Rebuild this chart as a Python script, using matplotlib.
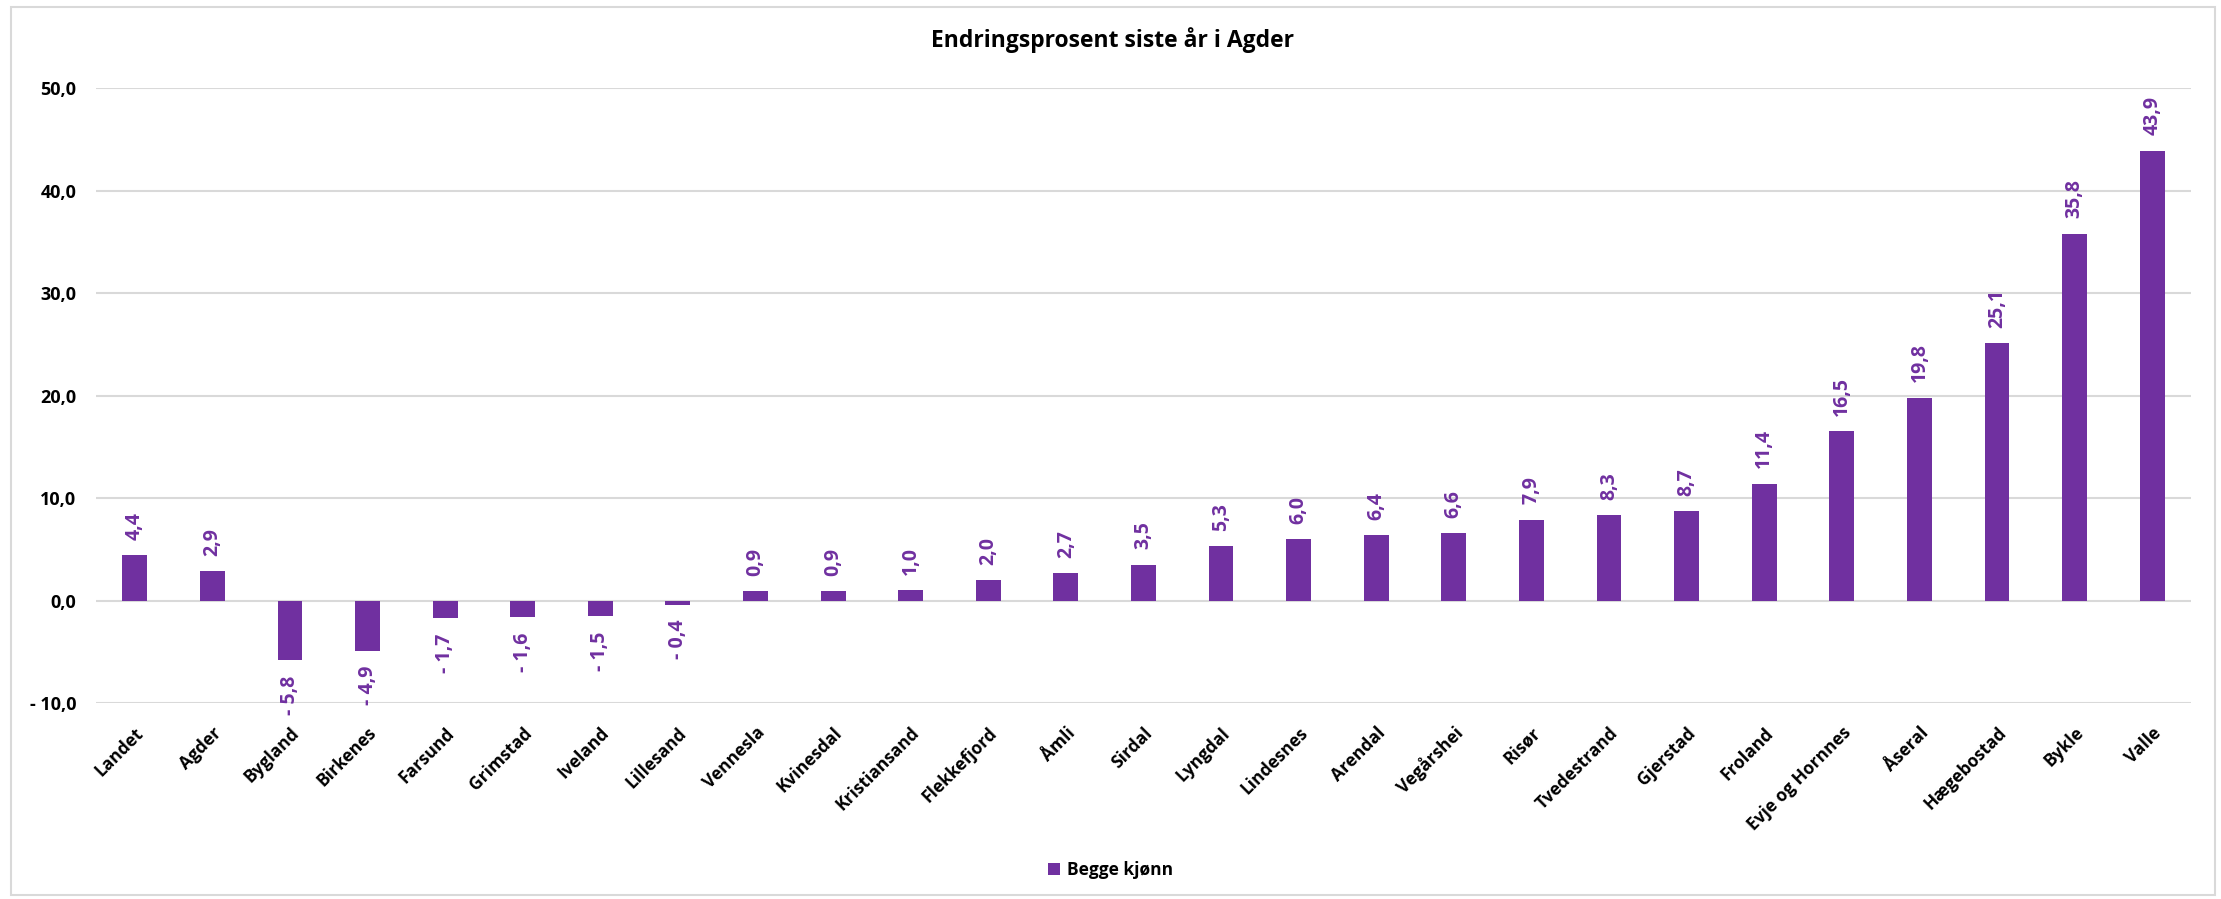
import matplotlib.pyplot as plt
from matplotlib.patches import Rectangle

# Data
kommuner = ['Landet', 'Agder', 'Bygland', 'Birkenes', 'Farsund', 'Grimstad', 'Iveland',
            'Lillesand', 'Vennesla', 'Kvinesdal', 'Kristiansand', 'Flekkefjord', 'Åmli',
            'Sirdal', 'Lyngdal', 'Lindesnes', 'Arendal', 'Vegårshei', 'Risør', 'Tvedestrand',
            'Gjerstad', 'Froland', 'Evje og Hornnes', 'Åseral', 'Hægebostad', 'Bykle', 'Valle']
endring = [4.4, 2.9, -5.8, -4.9, -1.7, -1.6, -1.5, -0.4, 0.9, 0.9, 1.0, 2.0, 2.7,
           3.5, 5.3, 6.0, 6.4, 6.6, 7.9, 8.3, 8.7, 11.4, 16.5, 19.8, 25.1, 35.8, 43.9]
y_ticks = [-10, 0, 10, 20, 30, 40, 50]

PURPLE = '#7030A0'
GRID = '#D9D9D9'

plt.rcParams['font.family'] = ['Open Sans', 'DejaVu Sans']


def fmt(v):
    s = f"{abs(v):.1f}".replace('.', ',')
    return '- ' + s if v < 0 else s


fig = plt.figure(figsize=(22.21, 8.99), dpi=100)
ax = fig.add_axes([0.0432, 0.218, 0.9433, 0.684])

x = list(range(len(kommuner)))
bars = ax.bar(x, endring, width=0.32, color=PURPLE, label='Begge kjønn', zorder=3)

for xi, v in zip(x, endring):
    off = 11 if v >= 0 else -11
    ax.annotate(fmt(v), (xi, v), xytext=(0, off), textcoords='offset points',
                rotation=90, ha='center', va='bottom' if v >= 0 else 'top',
                color=PURPLE, fontsize=14, fontweight='bold')

ax.set_ylim(-10, 50)
ax.set_xlim(-0.5, 26.5)
ax.set_yticks(y_ticks)
ax.set_yticklabels([fmt(t) for t in y_ticks], fontsize=13, fontweight='bold')
ax.set_xticks(x)
ax.set_xticklabels(kommuner, rotation=45, ha='right', rotation_mode='anchor',
                   fontsize=12.5, fontweight='bold')
ax.tick_params(axis='both', length=0)
ax.tick_params(axis='x', pad=15)
ax.tick_params(axis='y', pad=14)
ax.grid(axis='y', color=GRID, linewidth=1.5, zorder=0)
for s in ax.spines.values():
    s.set_visible(False)

fig.text(0.501, 0.955, 'Endringsprosent siste år i Agder', ha='center', va='center',
         fontsize=16.5, fontweight='bold')

fig.legend(handles=[bars], labels=['Begge kjønn'], loc='center', bbox_to_anchor=(0.5, 0.032),
           frameon=False, prop={'weight': 'bold', 'size': 12.5},
           handlelength=0.7, handleheight=0.7, handletextpad=0.4)

fig.patches.append(Rectangle((11 / 2221, 4 / 899), 2204 / 2221, 888 / 899,
                             transform=fig.transFigure, fill=False,
                             edgecolor=GRID, linewidth=1.5))

fig.savefig('out.png', dpi=100, facecolor='white')
